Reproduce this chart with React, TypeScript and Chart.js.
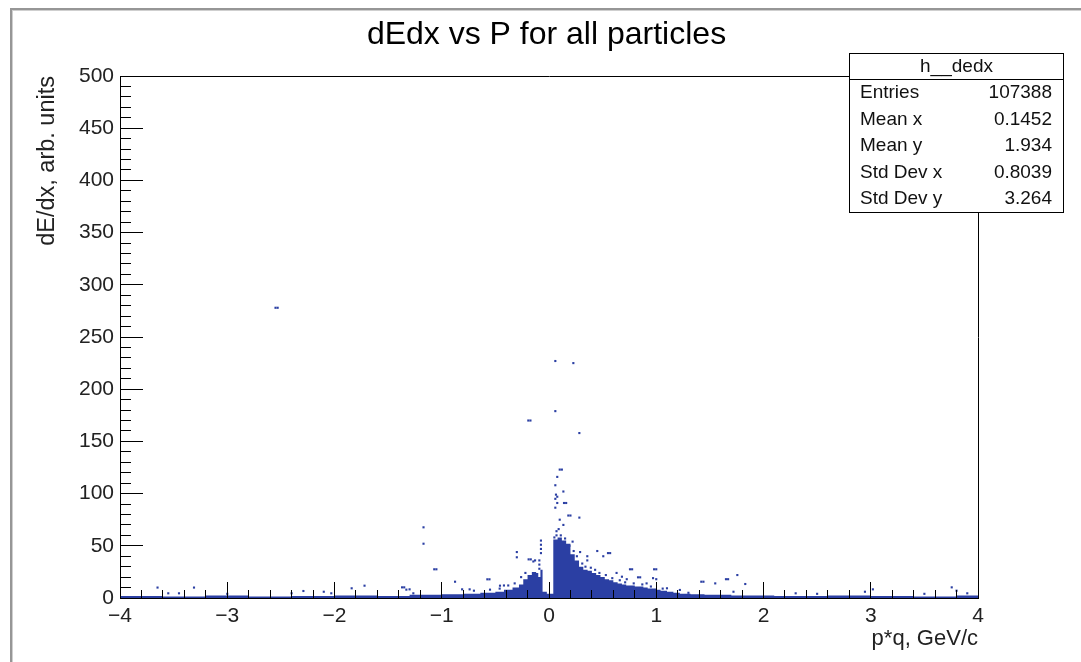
import React, { useEffect, useRef } from "react";
import { Chart, registerables } from "chart.js";

Chart.register(...registerables);

const TITLE = "dEdx vs P for all particles";
const X_TITLE = "p*q, GeV/c";
const Y_TITLE = "dE/dx, arb. units";

const X_MAJOR = [-4, -3, -2, -1, 0, 1, 2, 3, 4];
const X_MINOR = [
  -4, -3.8, -3.6, -3.4, -3.2, -3, -2.8, -2.6, -2.4, -2.2, -2, -1.8, -1.6, -1.4, -1.2, -1,
  -0.8, -0.6, -0.4, -0.2, 0, 0.2, 0.4, 0.6, 0.8, 1, 1.2, 1.4, 1.6, 1.8, 2, 2.2, 2.4, 2.6,
  2.8, 3, 3.2, 3.4, 3.6, 3.8, 4,
];
const Y_MAJOR = [0, 50, 100, 150, 200, 250, 300, 350, 400, 450, 500];
const Y_MINOR = [
  0, 10, 20, 30, 40, 50, 60, 70, 80, 90, 100, 110, 120, 130, 140, 150, 160, 170, 180, 190,
  200, 210, 220, 230, 240, 250, 260, 270, 280, 290, 300, 310, 320, 330, 340, 350, 360, 370,
  380, 390, 400, 410, 420, 430, 440, 450, 460, 470, 480, 490, 500,
];

// dense region: bin start x and filled height (dE/dx)
const DENSE_X = [
  -4.0, -3.6, -3.2, -2.8, -2.4, -2.0, -1.6, -1.3, -1.0, -0.8, -0.64, -0.5, -0.42, -0.34,
  -0.28, -0.24, -0.2, -0.16, -0.12, -0.1, -0.08, -0.06, -0.02, 0.04, 0.08, 0.12, 0.16, 0.2,
  0.24, 0.28, 0.32, 0.36, 0.4, 0.44, 0.48, 0.52, 0.56, 0.6, 0.64, 0.68, 0.72, 0.76, 0.8,
  0.84, 0.88, 0.92, 0.96, 1.0, 1.04, 1.1, 1.16, 1.22, 1.32, 1.45, 1.7, 2.1, 2.6, 3.0, 3.4,
  3.8, 4.0,
];
const DENSE_H = [
  2, 1.5, 2.5, 1.5, 2, 2.5, 2, 3, 3.5, 4, 5, 6, 8, 10, 13, 18, 22, 25, 24, 20, 27, 6, 4, 56,
  58, 55, 52, 42, 36, 30, 27, 26, 24, 22, 20, 18, 17, 15, 14, 13, 12, 12, 11, 11, 10, 9, 9,
  8, 7, 6, 5, 4, 3.5, 3, 2.5, 2, 2.5, 2, 1.5, 2.5, 2,
];

// isolated filled bins
const SCAT_X = [
  -3.65, -3.31, -3.55, -3.45, -3.0, -2.55, -2.53, -2.4, -2.29, -2.1, -2.03, -1.84, -1.72,
  -1.37, -1.35, -1.33, -1.3, -1.265, -1.17, -1.17, -1.07, -1.05, -0.876, -0.81, -0.74, -0.7,
  -0.575, -0.555, -0.457, -0.42, -0.3, -0.3, -0.19, -0.17, -0.146, -0.13, -0.09, -0.09,
  -0.09, -0.075, -0.075, -0.075, -0.075, -0.193, -0.173, 0.059, 0.227, 0.059, 0.283, 0.1,
  0.12, 0.077, 0.059, 0.134, 0.065, 0.077, 0.059, 0.077, 0.14, 0.16, 0.059, 0.18, 0.2,
  0.283, 0.1, 0.134, 0.07, 0.07, 0.09, 0.22, 0.29, 0.357, 0.357, 0.45, 0.506, 0.55, 0.57,
  0.63, 0.68, 0.725, 0.755, 0.775, 0.83, 0.85, 0.91, 0.97, 0.98, 1.0, 1.0, 1.1, 1.22, 1.3,
  1.42, 1.44, 1.55, 1.65, 1.67, 1.756, 1.83, 1.72, 2.3, 2.5, 2.946, 3.02, 3.5, 3.755, 3.8,
  3.9,
  // ragged edge of the dense cluster
  0.05, 0.11, 0.15, 0.19, 0.23, 0.26, 0.31, 0.34, 0.39, 0.43, 0.47, 0.53, 0.59, 0.66, 0.71,
  0.79, 0.87, 0.95, 1.06, -0.22, -0.26, -0.32, -0.38, -0.46, -0.55,
];
const SCAT_Y = [
  10, 10, 4.5, 4.5, 4, 278, 278, 4.5, 6.7, 6, 4.5, 9.3, 11.8, 10.2, 10.2, 8, 8.3, 4.5, 67.7,
  52, 27.5, 27.5, 15.6, 8.3, 8.3, 7, 17.9, 17.9, 11.8, 12, 44, 39, 37, 37, 35, 36, 28, 32, 36,
  43, 47, 51, 55, 170, 170, 227, 225, 179, 158, 123, 123, 116, 108, 102, 99, 97, 95, 91, 91,
  91, 86.5, 79, 79, 77, 75, 70, 60, 64, 66, 54, 44, 40, 36, 45, 40, 43, 43, 24, 20.4, 18,
  27.5, 27.5, 19.8, 19.8, 14, 19, 27.5, 27.5, 18, 9.3, 7.7, 5, 15.6, 15.6, 14, 18, 18, 22,
  13.4, 6, 4.5, 4, 6, 8.3, 4, 10.2, 7, 4.5,
  58, 60, 57, 50, 45, 40, 33, 30, 29, 27, 24, 22, 19, 17, 15, 14, 13, 11, 9, 24, 20, 14, 12,
  9, 8,
];

const STATS_NAME = "h__dedx";
const STATS_LABELS = ["Entries", "Mean x", "Mean y", "Std Dev x", "Std Dev y"];
const STATS_VALUES = ["107388", "0.1452", "1.934", "0.8039", "3.264"];

const FONT = '"Liberation Sans", Arial, Helvetica, sans-serif';
const BLUE = "#2b3fa3";

const fmt = (v: number) => {
  const r = Math.round(v * 100) / 100;
  return r < 0 ? "\u2212" + Math.abs(r) : String(r);
};

const statsPlugin = {
  id: "statsBox",
  afterDraw(chart: any) {
    const ctx = chart.ctx as CanvasRenderingContext2D;
    const L = 849.5, T = 53.5, R = 1063.5, B = 212.5, H = 79.5;
    ctx.save();
    ctx.fillStyle = "#fff";
    ctx.fillRect(L, T, R - L, B - T);
    ctx.strokeStyle = "#000";
    ctx.lineWidth = 1;
    ctx.strokeRect(L, T, R - L, B - T);
    ctx.beginPath();
    ctx.moveTo(L, H);
    ctx.lineTo(R, H);
    ctx.stroke();
    ctx.fillStyle = "#111";
    ctx.font = `19px ${FONT}`;
    ctx.textBaseline = "middle";
    ctx.textAlign = "center";
    ctx.fillText(STATS_NAME, (L + R) / 2, 66.5);
    const rowH = (B - H) / STATS_LABELS.length;
    STATS_LABELS.forEach((lab, i) => {
      const y = H + rowH * (i + 0.5);
      ctx.textAlign = "left";
      ctx.fillText(lab, 860, y);
      ctx.textAlign = "right";
      ctx.fillText(STATS_VALUES[i], 1052, y);
    });
    ctx.restore();
  },
};

export default function App() {
  const ref = useRef<HTMLCanvasElement | null>(null);

  useEffect(() => {
    if (!ref.current) return;
    const dense = DENSE_X.map((x, i) => ({ x, y: DENSE_H[i] }));
    const scat = SCAT_X.map((x, i) => ({ x, y: SCAT_Y[i] }));
    const axisCommon = (tl: number) => ({
      grid: { drawOnChartArea: false, drawTicks: true, tickLength: tl, color: "#000", tickColor: "#000", tickWidth: 1, z: 1 },
      border: { color: "#000", width: 1, z: 1 },
    });
    const chart = new Chart(ref.current, {
      type: "scatter",
      data: {
        datasets: [
          {
            data: dense,
            showLine: true,
            stepped: "before",
            fill: "origin",
            backgroundColor: BLUE,
            borderColor: BLUE,
            borderWidth: 0,
            pointRadius: 0,
            xAxisID: "x",
            yAxisID: "y",
          } as any,
          {
            data: scat,
            pointStyle: "rect",
            pointRadius: 1.5,
            backgroundColor: BLUE,
            borderWidth: 0,
            xAxisID: "x",
            yAxisID: "y",
          } as any,
        ],
      },
      options: {
        responsive: false,
        animation: false,
        events: [],
        devicePixelRatio: 1,
        layout: { padding: { left: 12, right: 0, top: 0, bottom: 0 } },
        plugins: {
          legend: { display: false },
          tooltip: { enabled: false },
          title: {
            display: true,
            text: TITLE,
            color: "#000",
            font: { family: FONT, size: 32, weight: "normal" as any },
            padding: { top: 16, bottom: 21.6 },
          },
        },
        scales: {
          x: {
            type: "linear",
            position: "bottom",
            min: -4,
            max: 4,
            weight: 0,
            afterBuildTicks: (s: any) => {
              s.ticks = X_MAJOR.map((v) => ({ value: v }));
            },
            afterFit: (s: any) => {
              s.height = 64;
            },
            ticks: {
              autoSkip: false,
              maxRotation: 0,
              padding: 22,
              color: "#222",
              font: { family: FONT, size: 21 },
              callback: (v: any) => fmt(Number(v)),
              z: 1,
            },
            title: {
              display: true,
              text: X_TITLE,
              align: "end",
              color: "#222",
              font: { family: FONT, size: 22 },
              padding: { top: 0, bottom: 10 },
            },
            ...axisCommon(-16),
          } as any,
          xMinor: {
            type: "linear",
            position: "bottom",
            min: -4,
            max: 4,
            weight: -1,
            afterBuildTicks: (s: any) => {
              s.ticks = X_MINOR.map((v) => ({ value: v }));
            },
            afterFit: (s: any) => {
              s.height = 0;
            },
            ticks: { display: false },
            grid: { drawOnChartArea: false, drawTicks: true, tickLength: -8, color: "#000", tickColor: "#000", z: 1 },
            border: { display: false },
          } as any,
          xTop: {
            type: "linear",
            position: "top",
            min: -4,
            max: 4,
            afterFit: (s: any) => {
              s.height = 0;
            },
            ticks: { display: false },
            grid: { display: false, drawTicks: false },
            border: { color: "#000", width: 1, z: 1 },
          } as any,
          y: {
            type: "linear",
            position: "left",
            min: 0,
            max: 500,
            weight: 0,
            afterBuildTicks: (s: any) => {
              s.ticks = Y_MAJOR.map((v) => ({ value: v }));
            },
            afterFit: (s: any) => {
              s.width = 108;
            },
            ticks: {
              autoSkip: false,
              padding: 29,
              color: "#222",
              font: { family: FONT, size: 21 },
              callback: (v: any) => fmt(Number(v)),
              z: 1,
            },
            title: {
              display: true,
              text: Y_TITLE,
              align: "end",
              color: "#222",
              font: { family: FONT, size: 23.5 },
              padding: { top: 21, bottom: 0 },
            },
            ...axisCommon(-23),
          } as any,
          yMinor: {
            type: "linear",
            position: "left",
            min: 0,
            max: 500,
            weight: -1,
            afterBuildTicks: (s: any) => {
              s.ticks = Y_MINOR.map((v) => ({ value: v }));
            },
            afterFit: (s: any) => {
              s.width = 0;
            },
            ticks: { display: false },
            grid: { drawOnChartArea: false, drawTicks: true, tickLength: -11, color: "#000", tickColor: "#000", z: 1 },
            border: { display: false },
          } as any,
          yRight: {
            type: "linear",
            position: "right",
            min: 0,
            max: 500,
            afterFit: (s: any) => {
              s.width = 103;
            },
            ticks: { display: false },
            grid: { display: false, drawTicks: false },
            border: { color: "#000", width: 1, z: 1 },
          } as any,
        },
      },
      plugins: [statsPlugin],
    });
    return () => chart.destroy();
  }, []);

  return (
    <div style={{ position: "fixed", left: 0, top: 0, width: 1081, height: 662, overflow: "hidden", background: "#fff" }}>
      <div
        style={{
          position: "absolute",
          left: 10,
          top: 8,
          width: 1400,
          height: 1000,
          borderLeft: "2px solid #969696",
          borderTop: "2px solid #969696",
          boxShadow: "inset 1px 1px 0 #cfcfcf",
        }}
      />
      <canvas ref={ref} width={1081} height={662} style={{ position: "absolute", left: 0, top: 0, width: 1081, height: 662 }} />
    </div>
  );
}
